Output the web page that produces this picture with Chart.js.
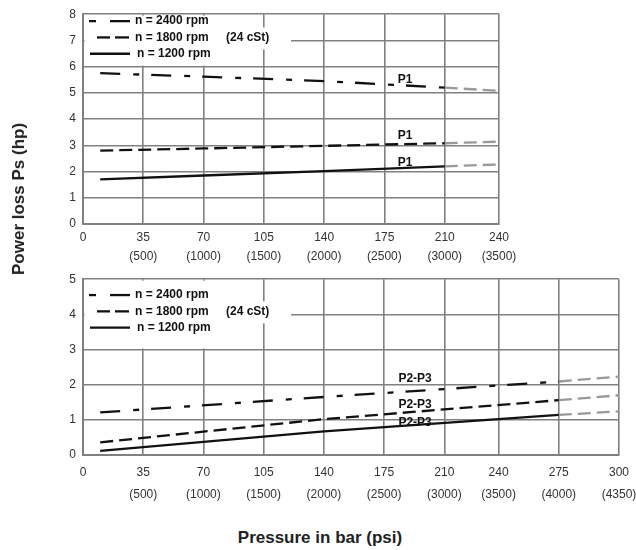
<!DOCTYPE html>
<html>
<head>
  <title>Power loss</title>
  <script src="https://cdn.jsdelivr.net/npm/chart.js@4.4.1/dist/chart.umd.min.js"></script>
  <style>
    body { margin: 0; background: #fff; }
    #wrap { position: relative; width: 636px; height: 550px; overflow: hidden; font-family: "Liberation Sans", Arial, sans-serif; }
    canvas { position: absolute; left: 0; }
    .title { position: absolute; font-weight: bold; font-size: 17px; color: #222; white-space: nowrap; transform: translate(-50%, -50%); }
  </style>
</head>
<body>
<div id="wrap">
  <canvas id="p1" width="636" height="270" style="top:0"></canvas>
  <canvas id="p23" width="636" height="245" style="top:265px"></canvas>
  <div class="title" style="left:19px; top:199px; transform: translate(-50%, -50%) rotate(-90deg);">Power loss Ps (hp)</div>
  <div class="title" style="left:320px; top:538px;">Pressure in bar (psi)</div>
</div>
<script>
  // tick labels of the pressure axis
  var barTicks = [0, 35, 70, 105, 140, 175, 210, 240, 275, 300];
  var psiTicks = ['', '(500)', '(1000)', '(1500)', '(2000)', '(2500)', '(3000)', '(3500)', '(4000)', '(4350)'];
  var rpmNames = ['n = 2400 rpm', 'n = 1800 rpm', 'n = 1200 rpm'];

  // P1: black up to 210 bar, grey continuation to 240
  var p1Bar = [10, 70, 140, 210];
  var p1Rpm2400 = [5.75, 5.62, 5.45, 5.2];
  var p1Rpm1800 = [2.8, 2.88, 2.98, 3.08];
  var p1Rpm1200 = [1.7, 1.85, 2.02, 2.2];
  var p1ExtBar = [210, 240];
  var p1Ext2400 = [5.2, 5.08];
  var p1Ext1800 = [3.08, 3.14];
  var p1Ext1200 = [2.2, 2.27];

  // P2-P3: black up to 275 bar, grey continuation to 300
  var p23Bar = [10, 140, 275];
  var p23Rpm2400 = [1.21, 1.65, 2.09];
  var p23Rpm1800 = [0.36, 1.02, 1.56];
  var p23Rpm1200 = [0.12, 0.67, 1.14];
  var p23ExtBar = [275, 300];
  var p23Ext2400 = [2.09, 2.23];
  var p23Ext1800 = [1.56, 1.7];
  var p23Ext1200 = [1.14, 1.24];

  Chart.defaults.font.family = '"Liberation Sans", Arial, sans-serif';
  Chart.defaults.font.size = 12;
  Chart.defaults.color = '#333';

  // the pressure axis in the original is not evenly scaled:
  // each labelled step is the same width, 210 -> 240 a bit shorter
  var axisStops = [[0, 0], [210, 6], [240, 6.9], [275, 7.9], [300, 8.9]];
  function toUnit(v) {
    for (var i = 1; i < axisStops.length; i++) {
      if (v <= axisStops[i][0] || i === axisStops.length - 1) {
        var a = axisStops[i - 1], b = axisStops[i];
        return a[1] + (v - a[0]) / (b[0] - a[0]) * (b[1] - a[1]);
      }
    }
  }
  class PressureScale extends Chart.LinearScale {
    getPixelForValue(v) {
      if (v === null || isNaN(v)) return NaN;
      var u0 = toUnit(this.min), u1 = toUnit(this.max);
      return this.getPixelForDecimal((toUnit(v) - u0) / (u1 - u0));
    }
  }
  PressureScale.id = 'pressure';
  PressureScale.defaults = Chart.LinearScale.defaults;
  Chart.register(PressureScale);

  function series(xs, ys, color, dash) {
    return {
      data: xs.map(function (x, i) { return { x: x, y: ys[i] }; }),
      borderColor: color,
      borderDash: dash,
      borderWidth: 2.3,
      pointRadius: 0,
      fill: false,
      tension: 0
    };
  }

  var dash2400 = [20, 13, 6, 12];
  var dash1800 = [13, 6];
  var dashGrey = [13, 6];

  // legend box, "(24 cSt)" and the curve names
  function panelPlugin(cfg) {
    return {
      id: 'panel',
      afterDraw: function (chart) {
        var ctx = chart.ctx, a = chart.chartArea, xs = chart.scales.x, ys = chart.scales.y;
        var boxBottom = ys.getPixelForValue(cfg.boxTo);
        var x105 = xs.getPixelForValue(105);
        var mid = (a.top + boxBottom) / 2 - 3, gap = 16.3;
        var rows = [mid - gap, mid, mid + gap];
        var L = a.left;
        ctx.save();
        ctx.fillStyle = '#fff';
        ctx.fillRect(L + 1.5, a.top + 1.5, x105 - L - 2.5, boxBottom - a.top - 2.5);
        ctx.fillRect(x105 - 2, rows[1] - 10, L + 210 - x105, 22);

        ctx.strokeStyle = '#111';
        ctx.lineWidth = 2.3;
        function seg(x0, x1, y) { ctx.beginPath(); ctx.moveTo(L + x0, y); ctx.lineTo(L + x1, y); ctx.stroke(); }
        seg(6, 13, rows[0]); seg(27, 47, rows[0]);
        seg(14, 27, rows[1]); seg(32, 46, rows[1]);
        seg(7, 47, rows[2]);

        ctx.fillStyle = '#111';
        ctx.font = 'bold 12px "Liberation Sans", Arial, sans-serif';
        ctx.textBaseline = 'middle';
        ctx.textAlign = 'left';
        ctx.fillText(rpmNames[0], L + 52, rows[0]);
        ctx.fillText(rpmNames[1], L + 52, rows[1]);
        ctx.fillText(rpmNames[2], L + 54, rows[2]);
        ctx.fillText('(24 cSt)', L + 143, rows[1]);

        ctx.textAlign = 'center';
        cfg.labelY.forEach(function (y) {
          ctx.fillText(cfg.name, xs.getPixelForValue(cfg.labelX), ys.getPixelForValue(y));
        });
        ctx.restore();
      }
    };
  }

  function makeChart(id, cfg) {
    return new Chart(document.getElementById(id), {
      type: 'line',
      data: { datasets: cfg.datasets },
      options: {
        responsive: false,
        animation: false,
        events: [],
        layout: { padding: { top: 12, right: cfg.right, left: 0, bottom: 0 } },
        plugins: { legend: { display: false }, tooltip: { enabled: false } },
        scales: {
          x: {
            type: 'pressure',
            min: 0,
            max: cfg.xmax,
            afterBuildTicks: function (s) {
              s.ticks = barTicks.filter(function (v) { return v <= cfg.xmax; }).map(function (v) { return { value: v }; });
            },
            afterFit: function (s) {
              s.height = cfg.axisH;
              s.paddingLeft = 0;
              s.paddingRight = 0;
            },
            grid: { color: '#808080', lineWidth: 1.6, drawTicks: false },
            border: { display: true, color: '#808080', width: 2 },
            ticks: {
              autoSkip: false,
              maxRotation: 0,
              padding: cfg.tickPad,
              font: { size: 12, lineHeight: cfg.lineH },
              callback: function (v) {
                var i = barTicks.indexOf(v);
                return psiTicks[i] ? [String(v), psiTicks[i]] : String(v);
              }
            }
          },
          y: {
            min: 0,
            max: cfg.ymax,
            afterFit: function (s) { s.width = 83; },
            grid: { color: '#808080', lineWidth: 1.6, drawTicks: false },
            border: { display: true, color: '#808080', width: 2 },
            ticks: { stepSize: 1, padding: 7, font: { size: 12 } }
          }
        }
      },
      plugins: [panelPlugin(cfg)]
    });
  }

  makeChart('p1', {
    xmax: 240, ymax: 8, right: 137, axisH: 46, tickPad: 4.5, lineH: 19 / 12,
    boxTo: 6, name: 'P1', labelX: 187, labelY: [5.5, 3.36, 2.34],
    datasets: [
      series(p1Bar, p1Rpm2400, '#111', dash2400),
      series(p1Bar, p1Rpm1800, '#111', dash1800),
      series(p1Bar, p1Rpm1200, '#111', []),
      series(p1ExtBar, p1Ext2400, '#999', dashGrey),
      series(p1ExtBar, p1Ext1800, '#999', dashGrey),
      series(p1ExtBar, p1Ext1200, '#999', dashGrey)
    ]
  });

  makeChart('p23', {
    xmax: 300, ymax: 5, right: 17, axisH: 55, tickPad: 7, lineH: 22 / 12,
    boxTo: 3, name: 'P2-P3', labelX: 193, labelY: [2.16, 1.43, 0.93],
    datasets: [
      series(p23Bar, p23Rpm2400, '#111', dash2400),
      series(p23Bar, p23Rpm1800, '#111', dash1800),
      series(p23Bar, p23Rpm1200, '#111', []),
      series(p23ExtBar, p23Ext2400, '#999', dashGrey),
      series(p23ExtBar, p23Ext1800, '#999', dashGrey),
      series(p23ExtBar, p23Ext1200, '#999', dashGrey)
    ]
  });
</script>
</body>
</html>
